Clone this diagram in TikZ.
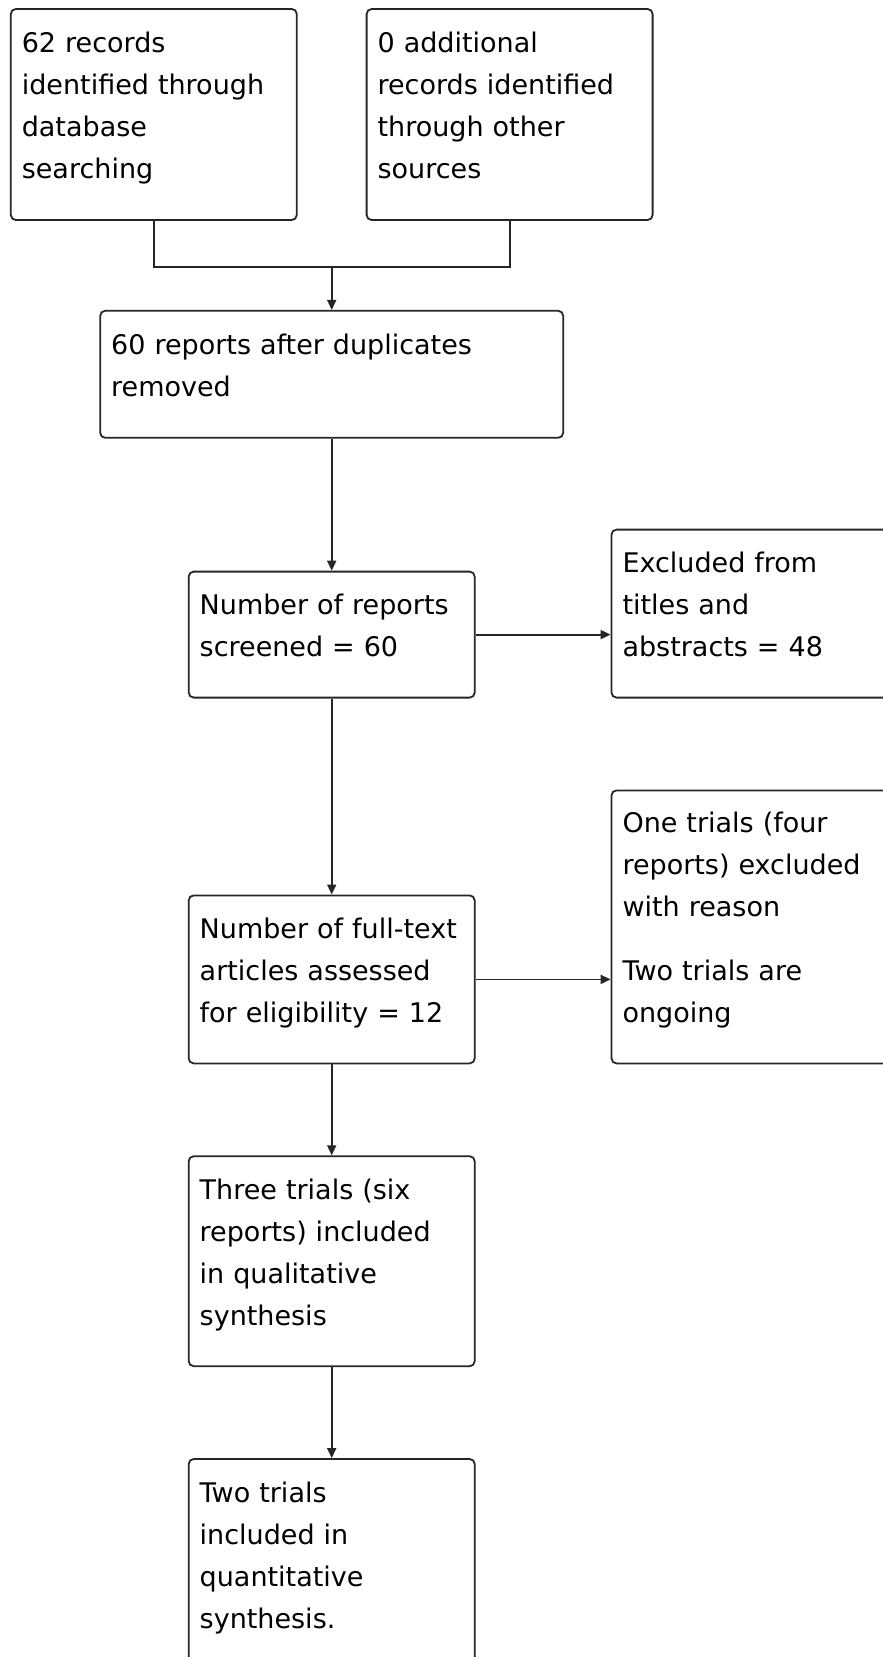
\documentclass[tikz,border=0pt]{standalone}
\usepackage{fontspec}
\setmainfont{DejaVu Sans}
\usepackage{tikz}
\usetikzlibrary{positioning, calc, arrows.meta}
\newcommand{\boxcolor}{black!85}
\newcommand{\bstrut}{\rule[-20pt]{0pt}{42pt}}
\tikzstyle{recbox} = [rectangle, rounded corners=5pt,
minimum width=286pt,
text width=264pt,
inner xsep=11pt, inner ysep=2pt,
align=left,
draw=\boxcolor, line width=1.8pt,
font=\fontsize{27pt}{42pt}\selectfont,
execute at begin node=\bstrut,
execute at end node=\bstrut]
\tikzstyle{arrow} = [line width=1.8pt, draw=\boxcolor,
-{Triangle[length=10pt,width=9pt]}]

\begin{document}
\begin{tikzpicture}[x=1pt, y=1pt]
\useasboundingbox (0,0) rectangle (883,-1657);

%-----------identification
\node (dbrec) [recbox, minimum height=211pt] at (153.8,-114.5)
  {62 records\\ identified through\\ database\\ searching};
\node (otherrec) [recbox, minimum height=211pt, right=68pt of dbrec]
  {0 additional\\ records identified\\ through other\\ sources};
\coordinate (join) at ($(dbrec.south)!0.5!(otherrec.south)+(0,-46)$);

%-----------duplicates
\node (dedup) [recbox, minimum width=463pt, text width=441pt,
  minimum height=127pt, below=43pt of join]
  {60 reports after duplicates\\ removed};

%-----------screening
\node (screened) [recbox, minimum height=126pt, below=132pt of dedup]
  {Number of reports\\ screened = 60};
\node (excla) [recbox, minimum height=168pt,
  right=135pt of screened.south east, anchor=south west]
  {Excluded from\\ titles and\\ abstracts = 48};

%-----------eligibility
\node (fulltext) [recbox, minimum height=168pt, below=196pt of screened]
  {Number of full-text\\ articles assessed\\ for eligibility = 12};
\node (exclb) [recbox, minimum height=273pt,
  right=135pt of fulltext.south east, anchor=south west]
  {One trials (four\\ reports) excluded\\ with reason\\[22pt]
   Two trials are\\ ongoing};

%-----------included
\node (qual) [recbox, minimum height=210pt, below=91pt of fulltext]
  {Three trials (six\\ reports) included\\ in qualitative\\ synthesis};
\node (quant) [recbox, minimum height=210pt, below=91pt of qual]
  {Two trials\\ included in\\ quantitative\\ synthesis.};

\draw [line width=1.8pt, draw=\boxcolor] (dbrec.south) |- (join) -| (otherrec.south);
\draw [arrow] (join) -- (dedup);
\draw [arrow] (dedup) -- (screened);
\draw [arrow] (screened.east) -- (screened.east -| excla.west);
\draw [arrow] (screened) -- (fulltext);
\draw [arrow] (fulltext.east) -- (fulltext.east -| exclb.west);
\draw [arrow] (fulltext) -- (qual);
\draw [arrow] (qual) -- (quant);

\end{tikzpicture}
\end{document}
